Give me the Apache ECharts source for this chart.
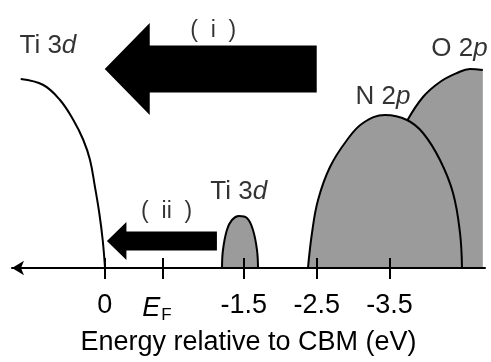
<!DOCTYPE html>
<html>
<head>
<meta charset="utf-8">
<script src="https://cdn.jsdelivr.net/npm/echarts@6/dist/echarts.min.js"></script>
<style>
  html, body { margin: 0; padding: 0; background: #fff; }
  #chart { width: 491px; height: 362px; }
</style>
</head>
<body>
<div id="chart"></div>
<script>
// Schematic band diagram: density of states along a (schematic) energy axis.
// Horizontal coordinate "pos" runs left → right; -1.5/-2.5/-3.5 sit at their energies,
// the CBM (0) and E_F ticks are placed schematically.

const tickPos = [-0.41, 0.39, 1.5, 2.5, 3.5];
const tickLabels = ['0', '{e|E}{f|F}', '-1.5', '-2.5', '-3.5'];

// Ti 3d conduction band (outline only)
const ti3dCbPos = [-1.563, -1.253, -1.024, -0.841, -0.704, -0.612, -0.544, -0.485, -0.438, -0.406];
const ti3dCbDos = [189, 183, 168, 148, 128, 108, 81, 55, 28, 0];

// Ti 3d gap state
const ti3dGapPos = [1.200, 1.213, 1.267, 1.336, 1.432, 1.542, 1.625, 1.680, 1.694];
const ti3dGapDos = [0, 18, 38, 48, 52, 50, 38, 18, 0];

// N 2p band
const n2pPos = [2.380, 2.435, 2.518, 2.682, 2.916, 3.135, 3.437, 3.739, 3.959, 4.192, 4.371, 4.467, 4.494];
const n2pDos = [0, 35, 68, 101, 128, 145, 153, 148, 135, 108, 75, 35, 0];

// O 2p band (its left part lies behind N 2p)
const o2pPos = [3.739, 3.959, 4.192, 4.426, 4.604, 4.78];
const o2pDos = [147, 171, 186, 195, 199, 198];

// Transition arrows: tip position, tail position, height
const arrowNames = ['(i)', '(ii)'];
const arrowTip = [-0.41, -0.38];
const arrowTail = [2.50, 1.13];
const arrowLevel = [199, 27];

// Text labels
const labelText = ['Ti 3{i|d}', '(  i  )', '(  ii  )', 'Ti 3{i|d}', 'N 2{i|p}', 'O 2{i|p}'];
const labelSize = [26, 23, 23, 26, 26, 26];
const labelPos = [-1.19, 1.08, 0.44, 1.43, 3.41, 4.46];
const labelDos = [222, 237, 56, 76, 171, 219];

const FONT = '"Liberation Sans", Arial, Helvetica, sans-serif';
const GRAY = '#9b9b9b';

const pairs = (xs, ys) => xs.map((x, i) => [x, ys[i]]);

// arrow shapes (pixel sizes): half shaft thickness, half head height, head length
const arrowShape = [
  { shaft: 23.5, head: 46, len: 45 },
  { shaft: 9.5, head: 19, len: 19.5 }
];

const chart = echarts.init(document.getElementById('chart'), null, { renderer: 'canvas' });

const bandLine = { color: '#000', width: 2 };

chart.setOption({
  animation: false,
  backgroundColor: '#fff',
  grid: { left: 12, right: 6, top: 0, bottom: 94, containLabel: false },
  xAxis: [
    {
      type: 'value', min: -1.683, max: 4.81, position: 'bottom', z: 10,
      splitLine: { show: false },
      axisLine: { show: true, onZero: false, symbol: ['arrow', 'none'], symbolSize: [11, 12],
                  lineStyle: { color: '#000', width: 2 } },
      axisTick: { show: true, inside: false, length: 11, customValues: tickPos,
                  lineStyle: { color: '#000', width: 2 } },
      axisLabel: {
        show: true, customValues: tickPos, margin: 24, color: '#000',
        fontFamily: FONT, fontSize: 27,
        formatter: v => tickLabels[tickPos.indexOf(v)],
        rich: {
          e: { fontStyle: 'italic', fontSize: 27, fontFamily: FONT, color: '#000' },
          f: { fontSize: 17, fontFamily: FONT, color: '#000', padding: [15, 12, 0, 1] }
        }
      },
      name: 'Energy relative to CBM (eV)', nameLocation: 'middle', nameGap: 56,
      nameTextStyle: { fontFamily: FONT, fontSize: 27, color: '#000' }
    },
    {
      type: 'value', min: -1.683, max: 4.81, position: 'bottom', z: 10,
      splitLine: { show: false },
      axisLine: { show: false, onZero: false },
      axisTick: { show: true, inside: true, length: 10, customValues: tickPos,
                  lineStyle: { color: '#000', width: 2 } },
      axisLabel: { show: false }
    }
  ],
  yAxis: { type: 'value', min: 0, max: 268, show: false },
  series: [
    {
      name: 'O 2p', type: 'line', smooth: 0.4, symbol: 'none', z: 1,
      data: pairs(o2pPos, o2pDos),
      lineStyle: bandLine, areaStyle: { color: GRAY, opacity: 1 }
    },
    {
      name: 'N 2p', type: 'line', smooth: 0.4, symbol: 'none', z: 2,
      data: pairs(n2pPos, n2pDos),
      lineStyle: bandLine, areaStyle: { color: GRAY, opacity: 1 }
    },
    {
      name: 'Ti 3d gap', type: 'line', smooth: 0.4, symbol: 'none', z: 2,
      data: pairs(ti3dGapPos, ti3dGapDos),
      lineStyle: bandLine, areaStyle: { color: GRAY, opacity: 1 }
    },
    {
      name: 'Ti 3d CB', type: 'line', smooth: 0.4, symbol: 'none', z: 2,
      data: pairs(ti3dCbPos, ti3dCbDos),
      lineStyle: bandLine
    },
    {
      name: 'transitions', type: 'custom', z: 3,
      data: arrowNames.map((n, i) => [arrowTip[i], arrowTail[i], arrowLevel[i], i]),
      renderItem: (params, api) => {
        const tip = api.coord([api.value(0), api.value(2)]);
        const tail = api.coord([api.value(1), api.value(2)]);
        const s = arrowShape[api.value(3)];
        const y = tip[1];
        const hx = tip[0] + s.len;
        return {
          type: 'polygon',
          shape: { points: [
            [tip[0], y], [hx, y - s.head], [hx, y - s.shaft], [tail[0], y - s.shaft],
            [tail[0], y + s.shaft], [hx, y + s.shaft], [hx, y + s.head]
          ] },
          style: { fill: '#000' }
        };
      }
    },
    {
      name: 'labels', type: 'scatter', symbolSize: 1,
      itemStyle: { color: 'rgba(0,0,0,0)' },
      data: labelText.map((t, i) => ({
        value: [labelPos[i], labelDos[i]], name: t,
        label: { fontSize: labelSize[i], rich: { i: { fontStyle: 'italic', fontFamily: FONT, fontSize: labelSize[i], color: '#000' } } }
      })),
      label: {
        show: true, position: 'inside', color: '#000',
        fontFamily: FONT,
        formatter: p => p.name
      },
      z: 5
    }
  ]
});
</script>
</body>
</html>
